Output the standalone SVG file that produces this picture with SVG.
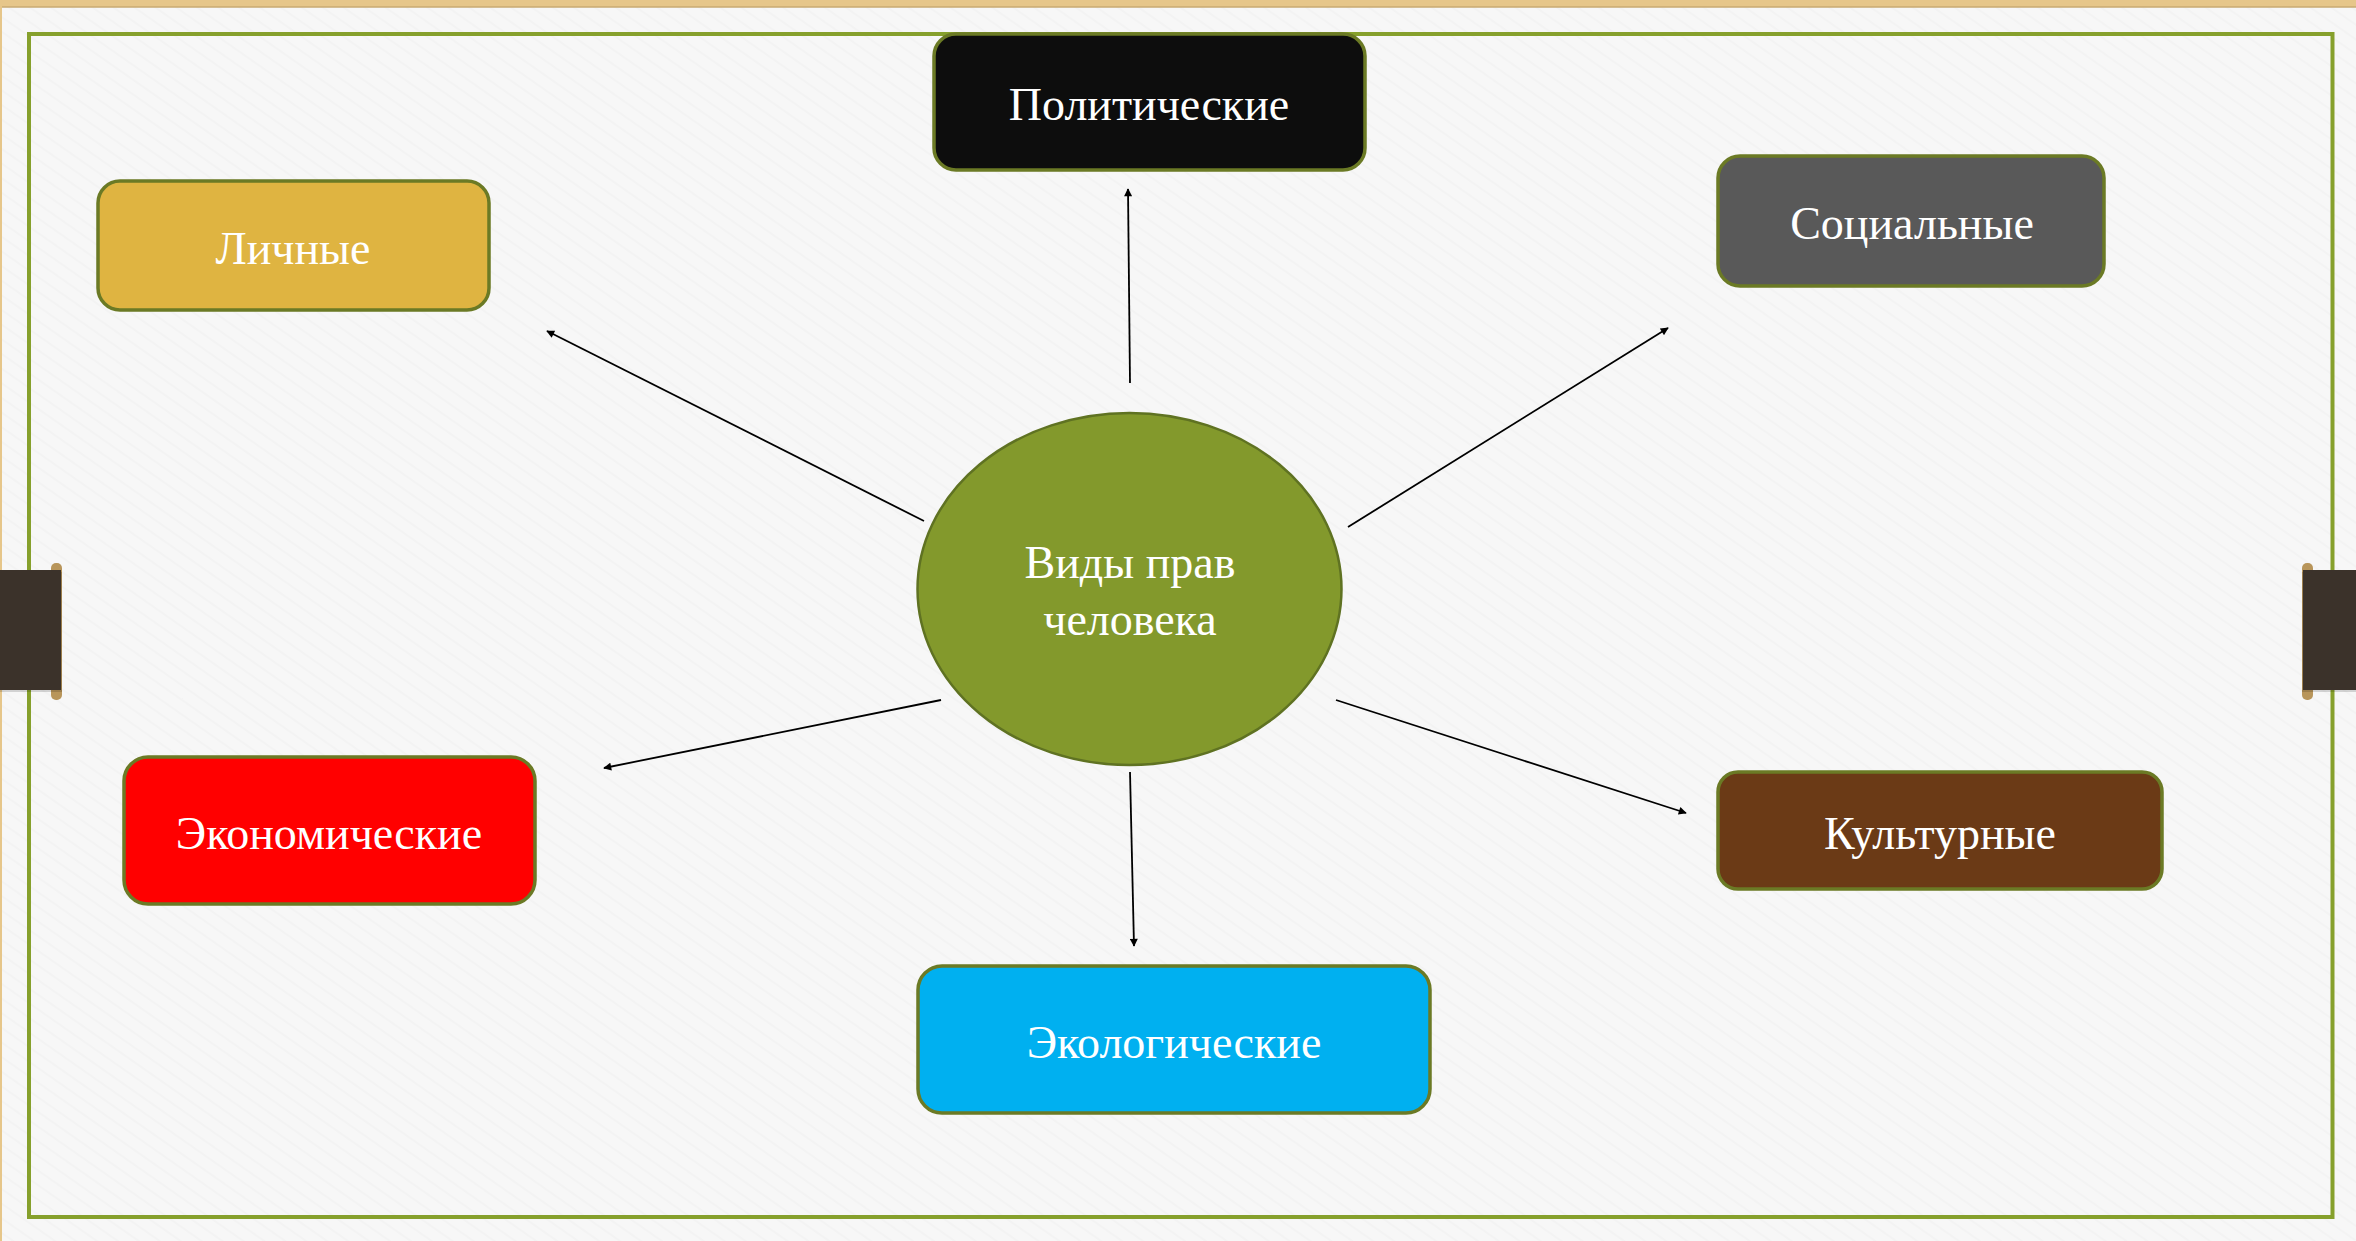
<svg xmlns="http://www.w3.org/2000/svg" width="2356" height="1241" viewBox="0 0 2356 1241">
  <style>
    .box { stroke: #6b7a25; stroke-width: 3.5; }
    .lbl { font-family: "Liberation Serif", "DejaVu Serif", serif; font-size: 46px; fill: #ffffff; text-anchor: middle; }
    .conn { stroke: #000000; stroke-width: 1.8; fill: none; marker-end: url(#arrow); }
  </style>
  <defs>
    <marker id="arrow" viewBox="0 0 10 10" refX="9" refY="5" markerWidth="9" markerHeight="8" markerUnits="userSpaceOnUse" orient="auto">
      <path d="M0,0 L10,5 L0,10 z" fill="#000000"/>
    </marker>
    <pattern id="paper" width="12" height="12" patternUnits="userSpaceOnUse" patternTransform="rotate(35)">
      <rect width="12" height="12" fill="#f7f7f7"/>
      <rect width="12" height="2" fill="#f3f3f3"/>
    </pattern>
  </defs>

  <!-- background -->
  <rect x="0" y="0" width="2356" height="1241" fill="#e6c68a"/>
  <rect x="2" y="7" width="2354" height="1234" fill="url(#paper)"/>
  <line x1="2" y1="7" x2="2356" y2="7" stroke="#c8aa72" stroke-width="1.5"/>

  <!-- frame -->
  <rect x="29" y="34" width="2303.5" height="1183" fill="none" stroke="#86a02c" stroke-width="4"/>

  <!-- clips -->
  <g id="clip-left">
    <rect x="51" y="563" width="11" height="137" rx="5" fill="#b8955a"/>
    <rect x="0" y="572" width="62" height="120" fill="#000000" opacity="0.15"/>
    <rect x="0" y="570" width="61" height="120" fill="#3b322a"/>
  </g>
  <g id="clip-right">
    <rect x="2302" y="563" width="11" height="137" rx="5" fill="#b8955a"/>
    <rect x="2302" y="572" width="54" height="120" fill="#000000" opacity="0.15"/>
    <rect x="2303" y="570" width="53" height="120" fill="#3b322a"/>
  </g>

  <!-- connectors -->
  <g id="connectors">
    <line class="conn" x1="1130" y1="383" x2="1128" y2="189"/>
    <line class="conn" x1="924" y1="521" x2="547" y2="331"/>
    <line class="conn" x1="1348" y1="527" x2="1668" y2="328"/>
    <line class="conn" x1="941" y1="700" x2="604" y2="768"/>
    <line class="conn" x1="1336" y1="700" x2="1686" y2="813"/>
    <line class="conn" x1="1130" y1="772" x2="1134" y2="946"/>
  </g>

  <!-- center -->
  <g id="node-center">
    <ellipse cx="1129.5" cy="589" rx="212" ry="176" fill="#83992c" stroke="#5f7222" stroke-width="2.5"/>
    <text class="lbl" x="1130" y="578">Виды прав</text>
    <text class="lbl" x="1130" y="635">человека</text>
  </g>

  <g id="node-political">
    <rect class="box" x="934" y="34" width="431" height="136" rx="22" fill="#0d0d0d"/>
    <text class="lbl" x="1149" y="120">Политические</text>
  </g>

  <g id="node-personal">
    <rect class="box" x="98" y="181" width="391" height="129" rx="22" fill="#dfb441"/>
    <text class="lbl" x="293" y="264">Личные</text>
  </g>

  <g id="node-social">
    <rect class="box" x="1718" y="156" width="386" height="130" rx="22" fill="#595959"/>
    <text class="lbl" x="1912" y="239">Социальные</text>
  </g>

  <g id="node-economic">
    <rect class="box" x="124" y="757" width="411" height="147" rx="24" fill="#ff0000"/>
    <text class="lbl" x="329" y="849">Экономические</text>
  </g>

  <g id="node-cultural">
    <rect class="box" x="1718" y="772" width="444" height="117" rx="20" fill="#6b3a16"/>
    <text class="lbl" x="1940" y="849">Культурные</text>
  </g>

  <g id="node-ecological">
    <rect class="box" x="918" y="966" width="512" height="147" rx="24" fill="#00b0f0"/>
    <text class="lbl" x="1174" y="1058">Экологические</text>
  </g>
</svg>
